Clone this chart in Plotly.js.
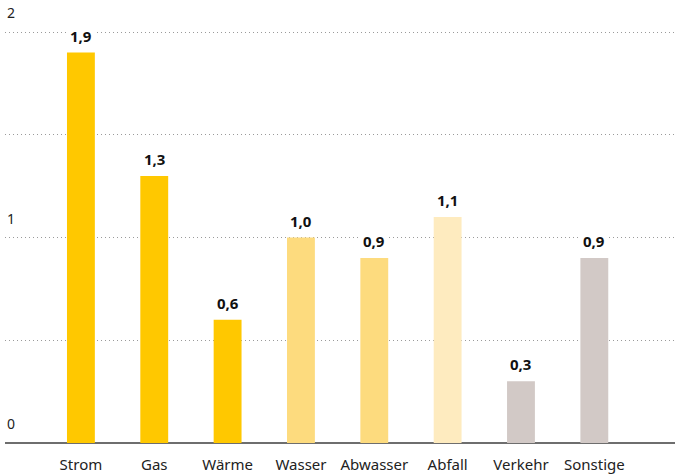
<!DOCTYPE html>
<html><head><meta charset="utf-8">
<script src="https://cdn.plot.ly/plotly-3.0.1.min.js"></script>
<style>html,body{margin:0;padding:0;background:#fff}</style>
</head><body><div id="chart" style="width:677px;height:474px"></div>
<script>
const categories = ["Strom","Gas","Wärme","Wasser","Abwasser","Abfall","Verkehr","Sonstige"];
const values = [1.9, 1.3, 0.6, 1.0, 0.9, 1.1, 0.3, 0.9];
const barColors = ["#FFC800","#FFC800","#FFC800","#FDDB7E","#FDDB7E","#FEEBBF","#D2C9C6","#D2C9C6"];
const yTickVals = [0, 1, 2];
const yTickText = ["0", "1", "2"];

const fmt = v => v.toFixed(1).replace('.', ',');
const font = "Noto Sans, Open Sans, sans-serif";

const trace = {
  type: 'bar', x: categories, y: values,
  marker: {color: barColors}, width: 0.38,
  hoverinfo: 'none'
};

const annotations = values.map((v, i) => ({
  x: categories[i], y: v, xref: 'x', yref: 'y',
  text: '<b>' + fmt(v) + '</b>', showarrow: false,
  yanchor: 'bottom', yshift: 3,
  bgcolor: '#ffffff', borderpad: 3,
  font: {family: font, size: 15, color: '#111'}
})).concat(yTickVals.map((t, i) => ({
  x: 0, xref: 'paper', y: t, yref: 'y', text: yTickText[i],
  showarrow: false, xanchor: 'left', yanchor: 'bottom', yshift: 8, xshift: 0,
  font: {family: font, size: 14, color: '#222'}
})));

const layout = {
  width: 677, height: 474,
  margin: {l: 5, r: 2, t: 30, b: 31},
  paper_bgcolor: '#fff', plot_bgcolor: '#fff',
  showlegend: false, bargap: 0.6,
  xaxis: {
    type: 'category', range: [-1.035, 8.1],
    showgrid: false, zeroline: false, showline: false,
    ticks: '', tickfont: {family: font, size: 15, color: '#222'},
    ticklabelstandoff: 11, fixedrange: true
  },
  yaxis: {
    range: [0, 2.01], dtick: 0.5, tick0: 0,
    showticklabels: false, ticks: '',
    showgrid: true, gridcolor: '#9a9a9a', griddash: '1px,3px', gridwidth: 1,
    zeroline: true, zerolinecolor: '#6e6e6e', zerolinewidth: 1.5,
    fixedrange: true
  },
  annotations: annotations
};

Plotly.newPlot('chart', [trace], layout, {displayModeBar: false, staticPlot: true});
</script></body></html>
